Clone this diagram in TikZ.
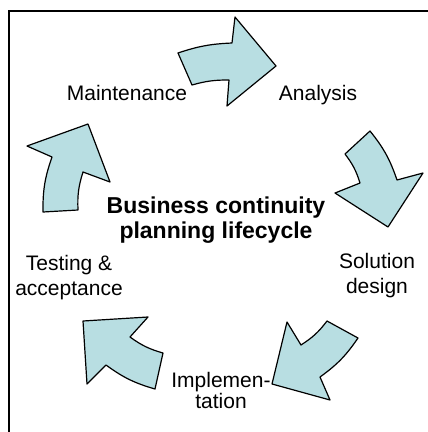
\documentclass[tikz,border=0pt]{standalone}
\usepackage{fontspec}
\setmainfont{Liberation Sans}
\definecolor{cyclefill}{RGB}{184,222,226}

\begin{document}
\begin{tikzpicture}[x=1pt,y=-1pt,
  stagearrow/.style={fill=cyclefill,draw=black,line width=1.2pt,line join=round},
  stage/.style={inner sep=0pt,align=center,font=\fontsize{21}{25}\selectfont}]
  \useasboundingbox (0,0) rectangle (428,432);
  % frame, open at right and bottom
  \draw[line width=2.6pt] (428,11) -- (9,11) -- (9,432);
  % arrows, clockwise from the top
  \draw[stagearrow] (178,53) to[bend left=8] (232,43) -- (235,17) -- (276,66)
    -- (227,106) -- (229,80) to[bend right=8] (192,85) -- cycle;
  \draw[stagearrow] (370,131) -- (345,154) to[bend left=10] (360,183) -- (335,193)
    -- (388,227) -- (423,173) -- (397,180) to[bend right=10] cycle;
  \draw[stagearrow] (327,321) -- (358,338) to[bend left=10] (320,377) -- (330,400)
    -- (272,384) -- (287,322) -- (301,345) to[bend right=10] cycle;
  \draw[stagearrow] (163,353) -- (155,389) to[bend left=10] (106,365) -- (87,384)
    -- (83,321) -- (148,317) -- (130,337) to[bend right=10] cycle;
  \draw[stagearrow] (43,212) -- (78,210) to[bend left=10] (83,172) -- (110,182)
    -- (88,124) -- (27,146) -- (52,157) to[bend right=10] cycle;
  % labels (base = last line)
  \node[stage,anchor=base] (maint) at (127,100) {Maintenance};
  \node[stage,anchor=base] (analysis) at (318,100) {Analysis};
  \node[stage,anchor=base] (solution) at (377,293) {Solution\\design};
  \node[stage,anchor=base,font=\fontsize{21}{18}\selectfont] (implem) at (221,408) {Implemen-\\tation};
  \node[stage,anchor=base] (testing) at (69,295) {Testing \&\\acceptance};
  \node[stage,anchor=base,font=\bfseries\fontsize{23}{25}\selectfont] (title) at (216,238)
    {Business continuity\\planning lifecycle};
\end{tikzpicture}
\end{document}
